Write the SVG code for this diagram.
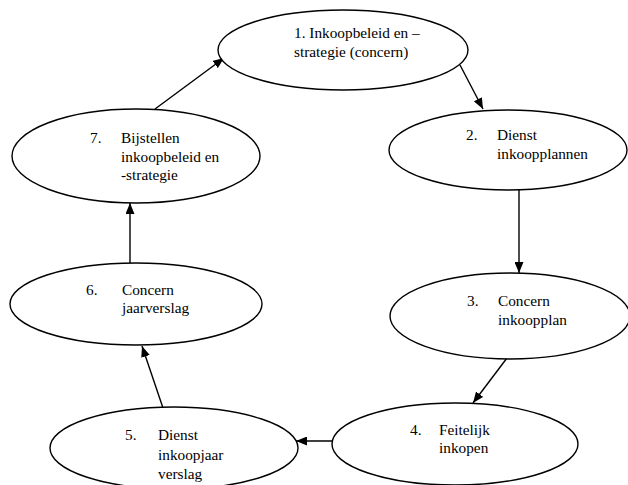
<svg xmlns="http://www.w3.org/2000/svg" width="628" height="485" viewBox="0 0 628 485">
<defs>
<marker id="ah" viewBox="0 0 11 9" refX="11" refY="4.5" markerWidth="11" markerHeight="9" markerUnits="userSpaceOnUse" orient="auto">
<path d="M0,0 L11,4.5 L0,9 Z" fill="#000"/>
</marker>
<style>
.n{fill:#fff;stroke:#000;stroke-width:1.4}
.t{font-family:"Liberation Serif","Times New Roman",serif;font-size:15.3px;fill:#000}
.c{stroke:#000;stroke-width:1.4;fill:none;marker-end:url(#ah)}
</style>
</defs>
<rect width="628" height="485" fill="#fff"/>
<g id="connectors">
<line class="c" x1="155" y1="109" x2="224" y2="58"/>
<line class="c" x1="460" y1="65" x2="483" y2="109"/>
<line class="c" x1="519" y1="190" x2="519" y2="273"/>
<line class="c" x1="507" y1="358" x2="473" y2="403"/>
<line class="c" x1="332" y1="441" x2="296" y2="441"/>
<line class="c" x1="163" y1="408" x2="142" y2="346"/>
<line class="c" x1="130" y1="263" x2="130" y2="203"/>
</g>
<g id="node1">
<ellipse class="n" cx="343" cy="50" rx="125" ry="40"/>
<text class="t" x="294" y="38">1. Inkoopbeleid en –</text>
<text class="t" x="294" y="57">strategie (concern)</text>
</g>
<g id="node2">
<ellipse class="n" cx="508" cy="150" rx="119" ry="40"/>
<text class="t" x="466" y="140">2.</text>
<text class="t" x="497" y="140">Dienst</text>
<text class="t" x="497" y="159">inkoopplannen</text>
</g>
<g id="node3">
<ellipse class="n" cx="510" cy="316" rx="120" ry="43"/>
<text class="t" x="467" y="306">3.</text>
<text class="t" x="498" y="306">Concern</text>
<text class="t" x="498" y="325">inkoopplan</text>
</g>
<g id="node4">
<ellipse class="n" cx="455" cy="444" rx="123" ry="41"/>
<text class="t" x="410" y="435">4.</text>
<text class="t" x="439" y="435">Feitelijk</text>
<text class="t" x="439" y="453">inkopen</text>
</g>
<g id="node5">
<ellipse class="n" cx="174" cy="448" rx="124" ry="41"/>
<text class="t" x="125" y="440">5.</text>
<text class="t" x="158" y="440">Dienst</text>
<text class="t" x="158" y="460">inkoopjaar</text>
<text class="t" x="158" y="479">verslag</text>
</g>
<g id="node6">
<ellipse class="n" cx="136" cy="304" rx="126" ry="41"/>
<text class="t" x="86" y="295">6.</text>
<text class="t" x="122" y="295">Concern</text>
<text class="t" x="122" y="313">jaarverslag</text>
</g>
<g id="node7">
<ellipse class="n" cx="136" cy="156" rx="124" ry="47"/>
<text class="t" x="90" y="143">7.</text>
<text class="t" x="121" y="143">Bijstellen</text>
<text class="t" x="121" y="162">inkoopbeleid en</text>
<text class="t" x="121" y="180">-strategie</text>
</g>
</svg>
